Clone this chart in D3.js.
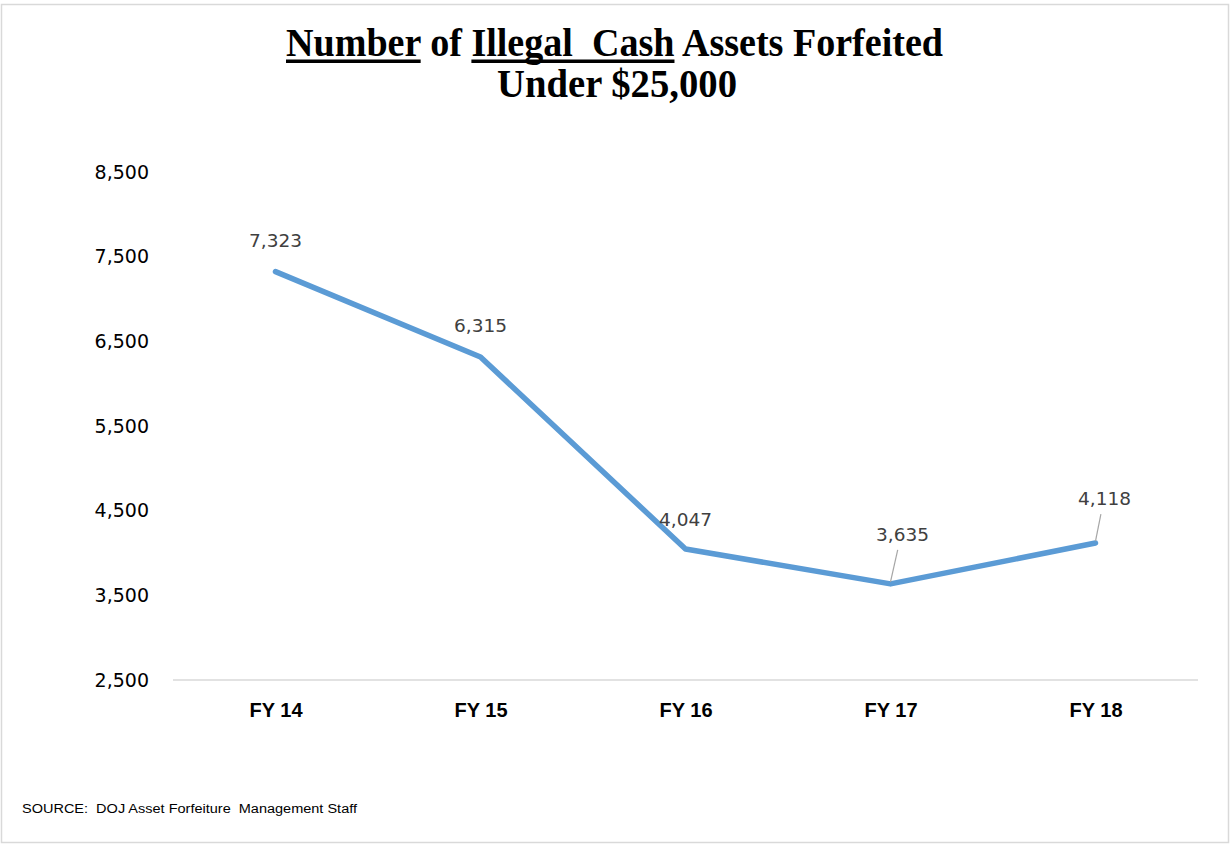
<!DOCTYPE html>
<html><head><meta charset="utf-8">
<script src="https://cdn.jsdelivr.net/npm/d3@7"></script>
<style>body{margin:0;background:#fff}svg{display:block}</style>
</head><body>
<svg id="c" width="1230" height="845"></svg>
<script>
const categories = ["FY 14", "FY 15", "FY 16", "FY 17", "FY 18"];
const values = [7323, 6315, 4047, 3635, 4118];
const yTicks = [2500, 3500, 4500, 5500, 6500, 7500, 8500];
const titleLine1 = [["Number", true], [" of ", false], ["Illegal  Cash", true], [" Assets Forfeited", false]];
const titleLine2 = "Under $25,000";
const sourceText = "SOURCE:  DOJ Asset Forfeiture  Management Staff";
// label placement offsets (layout, px) relative to the point: [dx, dy, leader]
const labelOffsets = [[0, -31, false], [0, -31, false], [0, -29, false], [12, -49, true], [9, -44, true]];

const svg = d3.select("#c");
svg.append("rect").attr("x", 1.5).attr("y", 4.5).attr("width", 1227).attr("height", 838)
  .attr("fill", "#fff").attr("stroke", "#d9d9d9").attr("stroke-width", 1.5);

const x = d3.scalePoint().domain(categories).range([173, 1198]).padding(0.5);
const y = d3.scaleLinear().domain([2500, 8500]).range([680, 172]);

// y tick labels
svg.append("g").selectAll("text").data(yTicks).join("text")
  .attr("x", 149).attr("y", d => y(d)).attr("dy", "0.35em")
  .attr("text-anchor", "end").attr("font-family", "DejaVu Sans").attr("font-size", 19)
  .attr("fill", "#000").text(d => d3.format(",")(d));

// baseline axis
const xAxis = d3.axisBottom(x).tickSize(0).tickPadding(0);
const gx = svg.append("g").attr("transform", `translate(0,${y(2500)})`).call(xAxis);
gx.select(".domain").attr("stroke", "#d9d9d9").attr("stroke-width", 1.5)
  .attr("d", "M173,0H1198");
gx.selectAll("text").attr("y", 37).attr("dy", 0).attr("font-family", "Liberation Sans")
  .attr("font-weight", "bold").attr("font-size", 20).attr("fill", "#000");

// line
const pts = categories.map((c, i) => [x(c), y(values[i])]);
svg.append("path").datum(pts).attr("d", d3.line()).attr("fill", "none")
  .attr("stroke", "#5b9bd5").attr("stroke-width", 5.5).attr("stroke-linejoin", "round").attr("stroke-linecap", "round");

// data labels
const lg = svg.append("g");
categories.forEach((c, i) => {
  const px = x(c), py = y(values[i]);
  const [dx, dy, leader] = labelOffsets[i];
  if (leader) {
    lg.append("line").attr("x1", px).attr("y1", py - 2).attr("x2", px + dx * 0.6).attr("y2", py + dy + 15)
      .attr("stroke", "#a6a6a6").attr("stroke-width", 1.2);
  }
  lg.append("text").attr("x", px + dx).attr("y", py + dy).attr("dy", "0.35em")
    .attr("text-anchor", "middle").attr("font-family", "DejaVu Sans").attr("font-size", 18.5)
    .attr("fill", "#404040").text(d3.format(",")(values[i]));
});

// title (single text element; underlines drawn as rects)
const t1 = svg.append("text").attr("x", 614.5).attr("y", 56).attr("text-anchor", "middle")
  .attr("font-family", "Liberation Serif").attr("font-weight", "bold").attr("font-size", 40)
  .attr("textLength", 657).attr("lengthAdjust", "spacingAndGlyphs")
  .style("white-space", "pre").text(titleLine1.map(d => d[0]).join(""));
let idx = 0;
const tn = t1.node();
titleLine1.forEach(([s, u]) => {
  if (u) {
    const a = tn.getExtentOfChar(idx), b = tn.getExtentOfChar(idx + s.length - 1);
    svg.append("rect").attr("x", a.x).attr("y", 59.5).attr("width", b.x + b.width - a.x).attr("height", 3.5).attr("fill", "#000");
  }
  idx += s.length;
});
svg.append("text").attr("x", 617).attr("y", 97).attr("text-anchor", "middle")
  .attr("font-family", "Liberation Serif").attr("font-weight", "bold").attr("font-size", 40)
  .attr("textLength", 240).attr("lengthAdjust", "spacingAndGlyphs").text(titleLine2);

// source
svg.append("text").attr("x", 22).attr("y", 813).attr("font-family", "Liberation Sans")
  .attr("font-size", 12.5).attr("fill", "#000").attr("textLength", 335).attr("lengthAdjust", "spacingAndGlyphs")
  .style("white-space", "pre").text(sourceText);
</script>
</body></html>
